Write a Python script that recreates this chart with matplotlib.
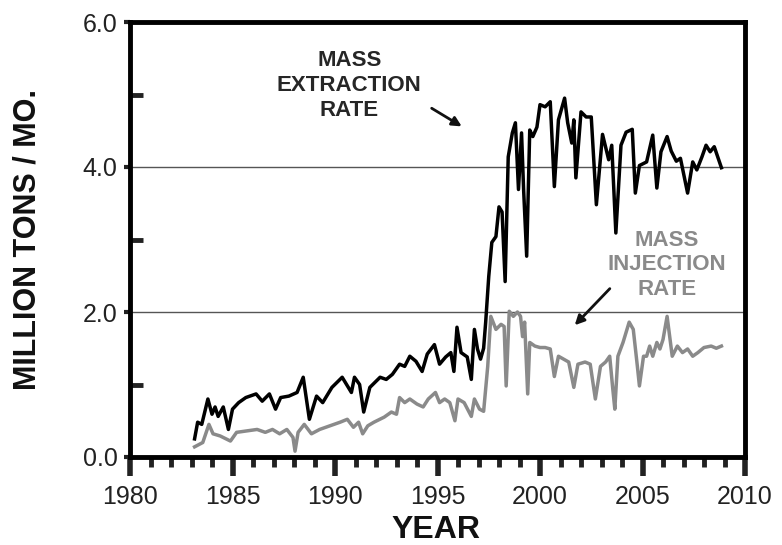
import numpy as np
import matplotlib
matplotlib.use("Agg")
import matplotlib.pyplot as plt
from matplotlib.ticker import MultipleLocator, FormatStrFormatter

plt.rcParams['font.family'] = ['Liberation Sans', 'DejaVu Sans']

# mass extraction rate (million tons / month)
ext_year = [1983.15, 1983.3, 1983.5, 1983.8, 1984.0, 1984.15, 1984.3, 1984.55, 1984.8, 1985.0,
            1985.3, 1985.65, 1986.15, 1986.45, 1986.8, 1987.1, 1987.35, 1987.75, 1988.15, 1988.45,
            1988.75, 1989.1, 1989.4, 1989.85, 1990.35, 1990.8, 1990.95, 1991.2, 1991.4, 1991.7,
            1992.2, 1992.5, 1992.8, 1993.15, 1993.4, 1993.65, 1993.95, 1994.25, 1994.5, 1994.85,
            1995.1, 1995.4, 1995.65, 1995.8, 1995.95, 1996.15, 1996.45, 1996.65, 1996.8, 1996.95,
            1997.1, 1997.25, 1997.35, 1997.5, 1997.65, 1997.85, 1998.0, 1998.15, 1998.3, 1998.45,
            1998.65, 1998.8, 1998.95, 1999.1, 1999.2, 1999.35, 1999.5, 1999.65, 1999.85, 2000.0,
            2000.25, 2000.5, 2000.7, 2000.9, 2001.2, 2001.35, 2001.55, 2001.65, 2001.75, 2002.0,
            2002.25, 2002.5, 2002.75, 2003.05, 2003.35, 2003.5, 2003.7, 2003.95, 2004.2, 2004.5,
            2004.65, 2004.85, 2005.2, 2005.5, 2005.7, 2005.9, 2006.2, 2006.4, 2006.65, 2006.85,
            2007.2, 2007.45, 2007.65, 2007.9, 2008.1, 2008.3, 2008.5, 2008.85]
ext_rate = [0.25, 0.48, 0.45, 0.80, 0.59, 0.69, 0.56, 0.69, 0.38, 0.66,
            0.75, 0.82, 0.87, 0.77, 0.87, 0.66, 0.82, 0.84, 0.89, 1.10,
            0.52, 0.84, 0.75, 0.96, 1.10, 0.89, 1.10, 1.00, 0.62, 0.96,
            1.10, 1.07, 1.14, 1.28, 1.25, 1.39, 1.32, 1.18, 1.42, 1.55,
            1.28, 1.38, 1.44, 1.18, 1.79, 1.44, 1.38, 1.07, 1.76, 1.49,
            1.35, 1.50, 1.86, 2.49, 2.96, 3.04, 3.45, 3.38, 2.42, 4.14,
            4.47, 4.61, 3.69, 4.47, 3.69, 2.77, 4.51, 4.42, 4.55, 4.86,
            4.83, 4.90, 3.73, 4.65, 4.95, 4.61, 4.33, 4.65, 3.85, 4.76,
            4.69, 4.69, 3.48, 4.45, 4.10, 4.30, 3.09, 4.30, 4.48, 4.52,
            3.64, 4.02, 4.07, 4.44, 3.71, 4.21, 4.42, 4.22, 4.08, 4.12,
            3.64, 4.07, 3.96, 4.14, 4.30, 4.21, 4.28, 3.99]

# mass injection rate (million tons / month)
inj_year = [1983.15, 1983.55, 1983.85, 1984.05, 1984.4, 1984.9, 1985.2, 1985.7, 1986.2, 1986.6,
            1986.95, 1987.3, 1987.65, 1987.95, 1988.05, 1988.2, 1988.5, 1988.85, 1989.25, 1989.75,
            1990.25, 1990.6, 1990.9, 1991.15, 1991.35, 1991.6, 1991.9, 1992.4, 1992.75, 1993.0,
            1993.15, 1993.4, 1993.65, 1994.0, 1994.3, 1994.55, 1994.9, 1995.1, 1995.35, 1995.6,
            1995.85, 1996.0, 1996.3, 1996.65, 1996.8, 1997.05, 1997.25, 1997.45, 1997.6, 1997.85,
            1998.1, 1998.25, 1998.35, 1998.5, 1998.7, 1998.9, 1999.05, 1999.15, 1999.25, 1999.4,
            1999.5, 1999.75, 2000.0, 2000.25, 2000.5, 2000.7, 2000.9, 2001.15, 2001.4, 2001.65,
            2001.85, 2002.2, 2002.45, 2002.7, 2002.95, 2003.2, 2003.4, 2003.55, 2003.65, 2003.8,
            2004.05, 2004.35, 2004.55, 2004.75, 2004.85, 2005.05, 2005.2, 2005.35, 2005.5, 2005.7,
            2005.85, 2006.0, 2006.2, 2006.45, 2006.7, 2006.95, 2007.2, 2007.45, 2007.7, 2008.0,
            2008.35, 2008.6, 2008.85]
inj_rate = [0.14, 0.20, 0.45, 0.32, 0.29, 0.22, 0.34, 0.36, 0.38, 0.34,
            0.38, 0.32, 0.38, 0.27, 0.08, 0.34, 0.45, 0.32, 0.38, 0.43,
            0.48, 0.52, 0.41, 0.48, 0.32, 0.43, 0.48, 0.55, 0.62, 0.59,
            0.82, 0.75, 0.80, 0.73, 0.69, 0.80, 0.89, 0.75, 0.80, 0.75,
            0.50, 0.80, 0.75, 0.56, 0.80, 0.66, 0.63, 1.25, 1.94, 1.76,
            1.83, 1.80, 0.98, 2.01, 1.94, 2.00, 1.94, 1.66, 1.86, 0.87,
            1.58, 1.53, 1.51, 1.51, 1.49, 1.11, 1.39, 1.35, 1.31, 0.96,
            1.28, 1.31, 1.28, 0.80, 1.25, 1.31, 1.39, 0.94, 0.66, 1.39,
            1.58, 1.86, 1.76, 1.25, 0.98, 1.39, 1.39, 1.53, 1.39, 1.58,
            1.49, 1.62, 1.94, 1.39, 1.53, 1.44, 1.49, 1.39, 1.44, 1.51,
            1.53, 1.50, 1.53]

fig = plt.figure(figsize=(7.82, 5.45), dpi=100)
ax = fig.add_axes([130/782, 1 - 457/545, 615/782, 435/545])

ax.axhline(2.0, color='#555555', lw=1.0, zorder=1)
ax.axhline(4.0, color='#555555', lw=1.0, zorder=1)

ax.plot(inj_year, inj_rate, color='#8a8a8a', lw=2.5, zorder=2)
ax.plot(ext_year, ext_rate, color='black', lw=2.5, zorder=3)

ax.set_xlim(1980, 2010)
ax.set_ylim(0, 6)

for s in ax.spines.values():
    s.set_linewidth(3.5)

ax.xaxis.set_major_locator(MultipleLocator(5))
ax.xaxis.set_minor_locator(MultipleLocator(1))
ax.yaxis.set_major_locator(MultipleLocator(2))
ax.yaxis.set_minor_locator(MultipleLocator(1))
ax.yaxis.set_major_formatter(FormatStrFormatter('%.1f'))

ax.tick_params(axis='x', which='major', direction='out', length=14, width=4, labelsize=18, pad=6)
ax.tick_params(axis='x', which='minor', direction='out', length=7, width=3.5)
ax.tick_params(axis='y', which='major', direction='out', length=4, width=3, labelsize=18, pad=5)
ax.tick_params(axis='y', which='minor', direction='in', length=9, width=3.5)
ax.tick_params(colors='#222222', which='both')

ax.set_ylabel('MILLION TONS / MO.', fontsize=22, fontweight='bold', color='#111111',
              va='center')
ax.yaxis.set_label_coords(-0.167, 0.50)
ax.set_xlabel('YEAR', fontsize=23, fontweight='bold', color='#111111', va='center')
ax.xaxis.set_label_coords(0.498, -0.168)

ax.text(1990.7, 5.13, 'MASS\nEXTRACTION\nRATE', ha='center', va='center',
        fontsize=16, fontweight='bold', color='#262626', linespacing=1.25)
ax.annotate('', xy=(1996.3, 4.54), xytext=(1994.6, 4.83),
            arrowprops=dict(arrowstyle='-|>', color='#111111', lw=2, mutation_scale=14))

ax.text(2006.2, 2.65, 'MASS\nINJECTION\nRATE', ha='center', va='center',
        fontsize=16, fontweight='bold', color='#8a8a8a', linespacing=1.2)
ax.annotate('', xy=(2001.6, 1.79), xytext=(2003.5, 2.35),
            arrowprops=dict(arrowstyle='-|>', color='#111111', lw=2, mutation_scale=14))

fig.savefig('out.png', dpi=100)
